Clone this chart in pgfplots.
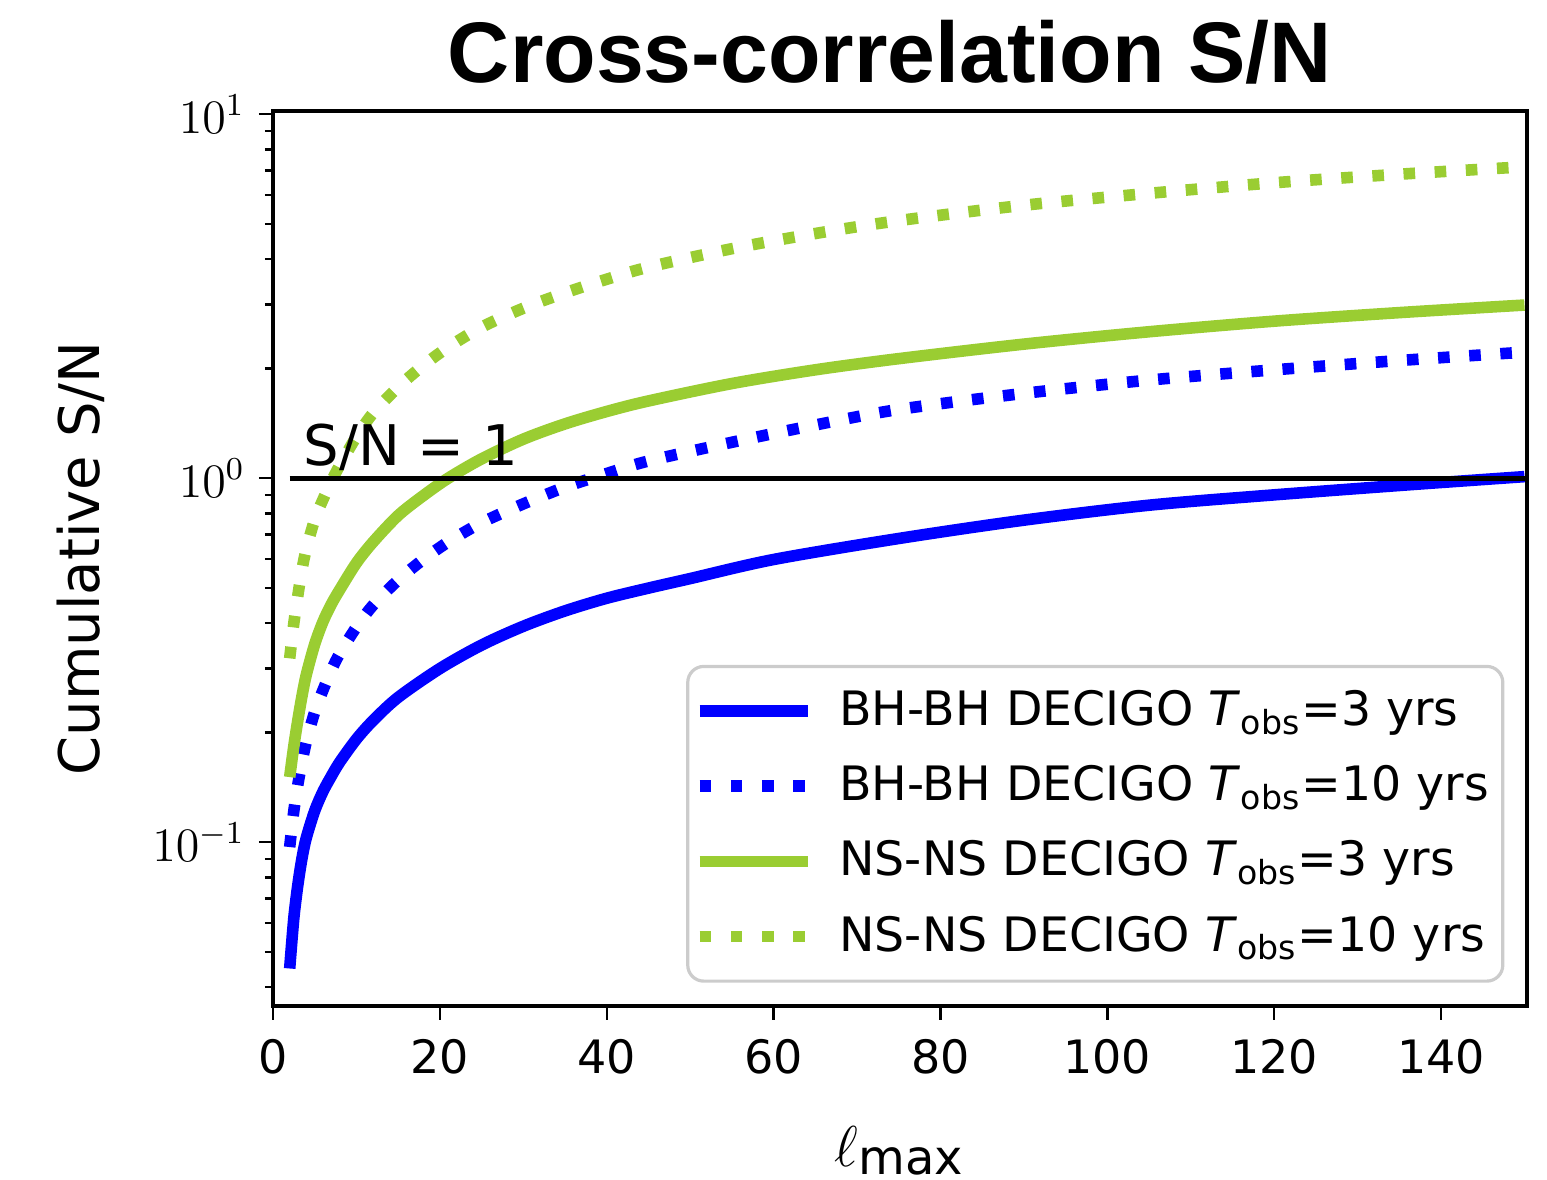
\documentclass[border=0pt]{standalone}
\usepackage{pgfplots}
\pgfplotsset{compat=1.18}
\usepackage{fontspec}
\setmainfont{DejaVu Sans}
\newfontfamily\titlefont{Liberation Sans}
\definecolor{mplblue}{RGB}{0,0,255}
\definecolor{ygreen}{RGB}{154,205,50}

\pgfplotstableread{
l sn
2 0.045
2.5 0.062
3 0.077
3.5 0.091
4 0.103
5 0.122
6 0.138
7 0.152
8 0.166
10 0.192
12 0.216
15 0.250
20 0.300
25 0.348
30 0.392
35 0.432
40 0.468
45 0.499
50 0.530
60 0.598
75 0.683
90 0.767
105 0.843
120 0.900
135 0.955
150 1.010
}\bhthree

\pgfplotstableread{
l sn
2 0.097
2.5 0.122
3 0.145
3.5 0.167
4 0.189
5 0.228
6 0.262
7 0.297
8 0.330
10 0.390
12 0.448
15 0.525
18 0.598
21 0.668
25 0.755
30 0.850
35 0.945
40 1.030
45 1.115
55 1.255
65 1.400
75 1.545
90 1.710
105 1.860
120 1.985
135 2.105
150 2.220
}\bhten

\pgfplotstableread{
l sn
2 0.151
2.5 0.184
3 0.218
3.5 0.254
4 0.289
5 0.350
6 0.404
7 0.451
8 0.494
10 0.585
12 0.668
15 0.790
18 0.895
21 1.000
25 1.130
30 1.280
35 1.410
40 1.525
45 1.630
55 1.820
65 1.985
75 2.130
90 2.335
105 2.525
120 2.700
135 2.850
150 2.990
}\nsthree

\pgfplotstableread{
l sn
2 0.320
2.5 0.400
3 0.480
3.5 0.565
4 0.640
5 0.770
6 0.875
7 0.980
8 1.085
10 1.300
12 1.510
15 1.780
18 2.040
21 2.290
25 2.600
30 2.930
35 3.230
40 3.520
45 3.800
55 4.270
65 4.700
75 5.100
90 5.620
105 6.060
120 6.480
135 6.840
150 7.170
}\nsten

\begin{document}
\begin{tikzpicture}
\useasboundingbox (-68.25pt,-43.5pt) rectangle (318.5pt,251.5pt);
\begin{axis}[
  at={(0pt,0pt)}, anchor=south west,
  width=313.5pt, height=223.75pt, scale only axis,
  ymode=log,
  xmin=0, xmax=150.3, ymin=0.0355, ymax=10.2,
  xtick={0,20,...,140},
  tick pos=left,
  tick align=outside,
  major tick length=3.5pt, minor tick length=2pt,
  every tick/.style={black, line width=0.6pt},
  axis line style={line width=0.8pt},
  xticklabel style={font=\fontsize{11.5}{13}\selectfont, yshift=-1.25pt, /pgf/number format/assume math mode=true},
  yticklabel style={font=\fontsize{12}{14}\selectfont},
  xlabel={$\ell$\textsubscript{\fontsize{12}{14}\selectfont max}},
  ylabel={Cumulative S/N},
  every axis x label/.style={at={(axis description cs:0.5,0)}, anchor=base, yshift=-40pt, font=\fontsize{14}{16}\selectfont},
  every axis y label/.style={at={(axis description cs:-0.138,0.5)}, rotate=90, anchor=base, font=\fontsize{14}{16}\selectfont},
  legend style={at={(0.982,0.026)}, anchor=south east, draw=black!20, line width=0.8pt,
    rounded corners=4pt, font=\fontsize{11.85}{14}\selectfont, inner xsep=1.5pt, inner ysep=4pt,
    row sep=4.5pt, column sep=4.5pt},
  legend cell align=left,
  legend image code/.code={\draw[#1] (0pt,0pt) -- (27pt,0pt);},
  every axis plot/.append style={smooth, tension=0.5},
]
\addplot[mplblue, line width=2.9pt] table[x=l, y=sn] {\bhthree};
\addlegendentry{BH-BH DECIGO \textit{T}\textsubscript{obs}=3 yrs}
\addplot[mplblue, line width=2.9pt, dash pattern=on 2.9pt off 4.9pt] table[x=l, y=sn] {\bhten};
\addlegendentry{BH-BH DECIGO \textit{T}\textsubscript{obs}=10 yrs}
\addplot[ygreen, line width=2.9pt] table[x=l, y=sn] {\nsthree};
\addlegendentry{NS-NS DECIGO \textit{T}\textsubscript{obs}=3 yrs}
\addplot[ygreen, line width=2.9pt, dash pattern=on 2.9pt off 4.9pt] table[x=l, y=sn] {\nsten};
\addlegendentry{NS-NS DECIGO \textit{T}\textsubscript{obs}=10 yrs}
\addplot[black, line width=1.25pt, forget plot, sharp plot] coordinates {(2,1) (150.3,1)};
\node[anchor=base west, inner sep=0pt, font=\fontsize{14}{16}\selectfont] at (axis cs:3.6,1.086) {S/N = 1};
\end{axis}
\node[anchor=base, inner sep=0pt, font=\titlefont\bfseries\fontsize{21.5}{24}\selectfont] at (154.25pt,230.75pt) {Cross-correlation S/N};
\end{tikzpicture}
\end{document}
